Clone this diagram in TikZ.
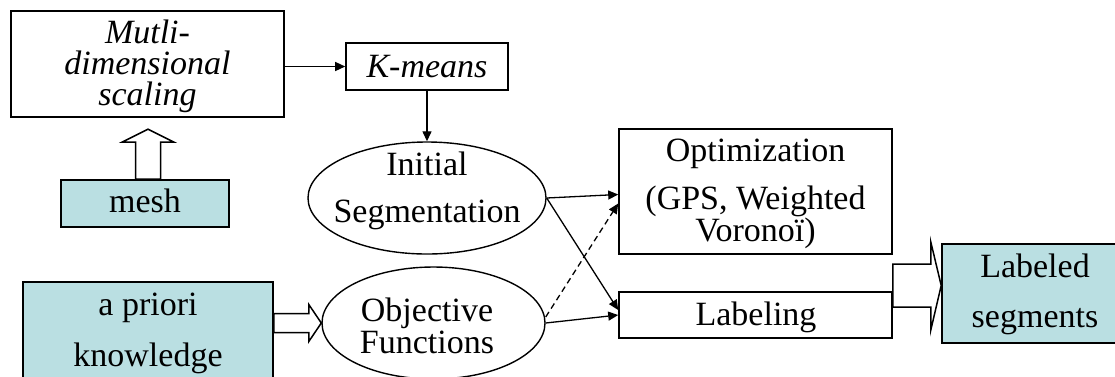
\documentclass[tikz,border=0pt]{standalone}
\usepackage{fontspec}
\setmainfont{Liberation Serif}
\usetikzlibrary{shapes.geometric,arrows.meta,calc}
\definecolor{lightcyan}{RGB}{186,223,226}
\begin{document}
\begin{tikzpicture}[x=1pt,y=-1pt,
  box/.style={draw=black, line width=1.6pt, rectangle, inner sep=0pt},
  inbox/.style={box, fill=lightcyan},
  ell/.style={draw=black, line width=1.4pt, ellipse, inner sep=0pt},
  txt/.style={inner sep=0pt, anchor=base, font=\fontsize{34}{34}\selectfont},
  itxt/.style={inner sep=0pt, anchor=base, font=\fontsize{34}{34}\selectfont\itshape},
  conn/.style={line width=1.3pt, -{Triangle[length=10pt,width=9pt]}},
  hollow/.style={draw=black, line width=1.5pt, fill=white}]
\useasboundingbox (0,0) rectangle (1115,376);

% shapes
\node[box, minimum width=273pt, minimum height=106pt] (mds) at (147.5,64) {};
\node[box, minimum width=162pt, minimum height=47pt] (kmeans) at (427,66.5) {};
\node[inbox, minimum width=168pt, minimum height=47pt] (mesh) at (145,203.5) {};
\node[ell, minimum width=238pt, minimum height=112pt] (init) at (427,198) {};
\node[ell, minimum width=223pt, minimum height=112pt] (obj) at (433.5,323) {};
\node[inbox, minimum width=250pt, minimum height=108pt] (apriori) at (148,336) {};
\node[box, minimum width=273pt, minimum height=125pt] (opt) at (755.5,191.5) {};
\node[box, minimum width=273pt, minimum height=46pt] (lab) at (755.5,315) {};
\node[inbox, minimum width=186pt, minimum height=99pt] (seg) at (1035,293.5) {};

% texts
\node[itxt] (mdsT1) at (147.5,43) {Mutli-};
\node[itxt] (mdsT2) at (147.5,74) {dimensional};
\node[itxt] (mdsT3) at (147.5,105) {scaling};
\node[itxt] (kmT) at (427,77) {K-means};
\node[txt] (meshT) at (145,212) {mesh};
\node[txt] (initT1) at (427,175) {Initial};
\node[txt] (initT2) at (427,222) {Segmentation};
\node[txt] (objT1) at (427,321) {Objective};
\node[txt] (objT2) at (427,353) {Functions};
\node[txt] (aprT1) at (148,315) {a priori};
\node[txt] (aprT2) at (148,366) {knowledge};
\node[txt] (optT1) at (755.5,161) {Optimization};
\node[txt] (optT2) at (755.5,209) {(GPS, Weighted};
\node[txt] (optT3) at (755.5,241) {Voronoï)};
\node[txt] (labT) at (756,325) {Labeling};
\node[txt] (segT1) at (1035,277) {Labeled};
\node[txt] (segT2) at (1035,327) {segments};

% connectors
\draw[conn] (mds.east |- kmeans.west) -- (kmeans.west);
\draw[conn] (kmeans.south) -- (init.north);
\draw[conn] (init.east) -- ($(opt.west)+(0,3)$);
\draw[conn] (init.east) -- ($(lab.west)+(0,-5)$);
\draw[conn] (obj.east) -- (lab.west);
\draw[conn, dash pattern=on 6pt off 4pt] ($(obj.east)+(0,-6)$) -- ($(opt.west)+(0,12)$);

% hollow arrows
\coordinate (mA) at ($(mesh.north)+(3,0)$);
\draw[hollow] ($(mA)+(-12.5,0)$) -- ($(mA)+(-12.5,-37)$) -- ($(mA)+(-26,-37)$)
  -- ($(mA)+(0,-50)$) -- ($(mA)+(26,-37)$) -- ($(mA)+(12.5,-37)$) -- ($(mA)+(12.5,0)$) -- cycle;

\coordinate (pA) at (apriori.east |- obj.west);
\draw[hollow] ($(pA)+(0,-9.5)$) -- ($(pA)+(35,-9.5)$) -- ($(pA)+(35,-18.5)$)
  -- (obj.west) -- ($(pA)+(35,18.5)$) -- ($(pA)+(35,9.5)$) -- ($(pA)+(0,9.5)$) -- cycle;

\coordinate (lA) at ($(lab.east)+(0,-29.5)$);
\coordinate (lTip) at (seg.west |- lA);
\draw[hollow] ($(lA)+(0,-21.5)$) -- ($(lA)+(38,-21.5)$) -- ($(lA)+(38,-43.5)$)
  -- (lTip) -- ($(lA)+(38,44.5)$) -- ($(lA)+(38,21.5)$) -- ($(lA)+(0,21.5)$) -- cycle;
\end{tikzpicture}
\end{document}
